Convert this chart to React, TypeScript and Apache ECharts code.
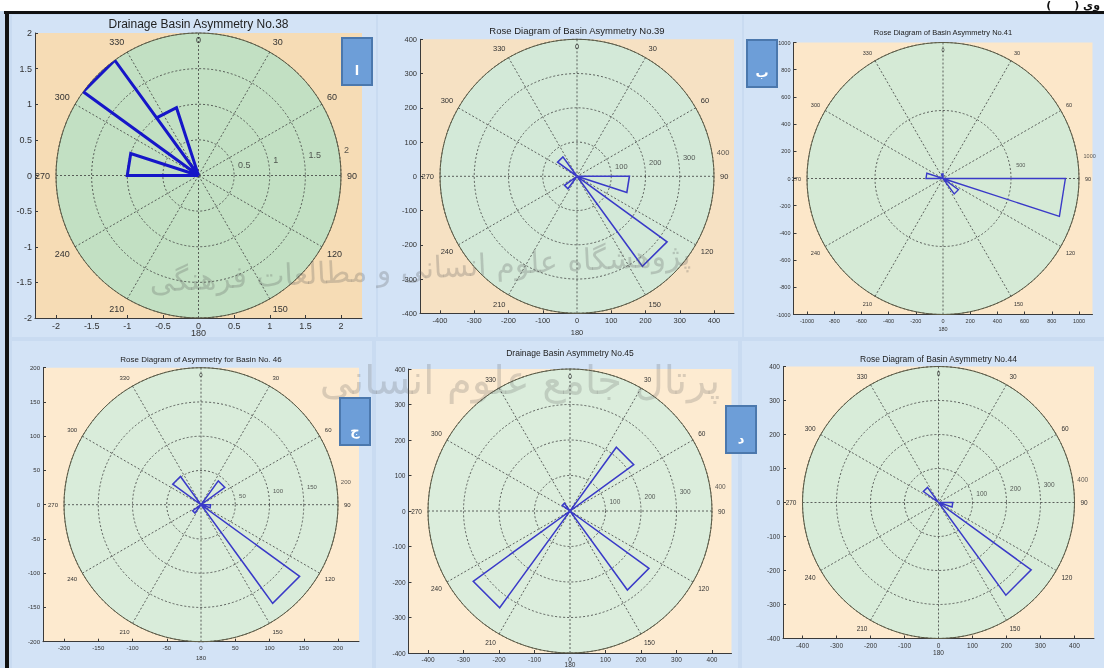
import React, { useEffect, useRef } from "react";
import * as echarts from "echarts";

// ---------------- data ----------------
const BIN_WIDTH = 18; // MATLAB rose: 20 bins of 18 degrees

// No.38
const p38Starts = [270, 306, 324];
const p38Radii = [1, 2, 1];
const p38Rings = [0.5, 1, 1.5, 2];
const p38Ticks = [-2, -1.5, -1, -0.5, 0, 0.5, 1, 1.5, 2];

// No.39
const p39Starts = [90, 126, 216, 306];
const p39Radii = [153, 325, 45, 70];
const p39Rings = [100, 200, 300, 400];
const p39Ticks = [-400, -300, -200, -100, 0, 100, 200, 300, 400];

// No.41
const p41Starts = [90, 126, 270, 342];
const p41Radii = [900, 140, 125, 35];
const p41Rings = [500, 1000];
const p41Ticks = [-1000, -800, -600, -400, -200, 0, 200, 400, 600, 800, 1000];

// No.46
const p46Starts = [36, 90, 126, 216, 306];
const p46Radii = [43, 14, 178, 15, 51];
const p46Rings = [50, 100, 150, 200];
const p46Ticks = [-200, -150, -100, -50, 0, 50, 100, 150, 200];

// No.45
const p45Starts = [36, 126, 216, 306];
const p45Radii = [222, 275, 337, 27];
const p45Rings = [100, 200, 300, 400];
const p45Ticks = [-400, -300, -200, -100, 0, 100, 200, 300, 400];

// No.44
const p44Starts = [90, 126, 306];
const p44Radii = [42, 337, 55];
const p44Rings = [100, 200, 300, 400];
const p44Ticks = [-400, -300, -200, -100, 0, 100, 200, 300, 400];

const titles = [
  "Drainage Basin Asymmetry No.38",
  "Rose Diagram of Basin Asymmetry No.39",
  "Rose Diagram of Basin Asymmetry No.41",
  "Rose Diagram of Asymmetry for Basin No. 46",
  "Drainage Basin Asymmetry No.45",
  "Rose Diagram of Basin Asymmetry No.44",
];

const RADIAL_LABEL_ANGLE = 82;

// ---------------- layout / style ----------------
const FONT = "Liberation Sans, Arial, sans-serif";

type Panel = {
  title: string;
  starts: number[];
  radii: number[];
  rings: number[];
  ticks: number[];
  cx: number;
  cy: number;
  R: number;
  hw: number;
  fs: number;
  titleFs: number;
  titleY: number;
  o180: number;
  lineW: number;
  lineColor: string;
  peach: string;
  green: string;
};

const panels: Panel[] = [
  { title: titles[0], starts: p38Starts, radii: p38Radii, rings: p38Rings, ticks: p38Ticks,
    cx: 198.5, cy: 175.5, R: 142.5, hw: 163.5, fs: 9, titleFs: 12, titleY: 24, o180: 15, lineW: 3, lineColor: "#1616c8", peach: "#f6dcb5", green: "#c2e0c3" },
  { title: titles[1], starts: p39Starts, radii: p39Radii, rings: p39Rings, ticks: p39Ticks,
    cx: 577, cy: 176.3, R: 137, hw: 157, fs: 7.5, titleFs: 9.5, titleY: 30, o180: 19, lineW: 1.6, lineColor: "#3a3ac8", peach: "#f6e1c3", green: "#d3e9d8" },
  { title: titles[2], starts: p41Starts, radii: p41Radii, rings: p41Rings, ticks: p41Ticks,
    cx: 943, cy: 178.5, R: 136, hw: 149.5, fs: 5.5, titleFs: 7.5, titleY: 32, o180: 14, lineW: 1.4, lineColor: "#3a3ac8", peach: "#fce7c9", green: "#d5ead6" },
  { title: titles[3], starts: p46Starts, radii: p46Radii, rings: p46Rings, ticks: p46Ticks,
    cx: 201, cy: 504.7, R: 137, hw: 158, fs: 6, titleFs: 8, titleY: 359, o180: 16, lineW: 1.5, lineColor: "#3a3ac8", peach: "#fdeacf", green: "#d9ecda" },
  { title: titles[4], starts: p45Starts, radii: p45Radii, rings: p45Rings, ticks: p45Ticks,
    cx: 570, cy: 511, R: 142, hw: 161.5, fs: 6.5, titleFs: 8.5, titleY: 353, o180: 11.5, lineW: 1.5, lineColor: "#3a3ac8", peach: "#fdebd1", green: "#dbeddc" },
  { title: titles[5], starts: p44Starts, radii: p44Radii, rings: p44Rings, ticks: p44Ticks,
    cx: 938.5, cy: 502.5, R: 136, hw: 155.5, fs: 6.5, titleFs: 8.5, titleY: 359, o180: 14, lineW: 1.5, lineColor: "#3a3ac8", peach: "#fdeacf", green: "#d8ecd9" },
];

function petalPoints(starts: number[], radii: number[]) {
  const pts: number[][] = [];
  starts.forEach((a, i) => {
    const r = radii[i];
    pts.push([0, a], [r, a], [r, a + BIN_WIDTH], [0, a + BIN_WIDTH]);
  });
  return pts;
}

const letterBoxes = [
  { x: 342, y: 38, t: "ا" },
  { x: 747, y: 40, t: "ب" },
  { x: 340, y: 398, t: "ج" },
  { x: 726, y: 406, t: "د" },
];

function buildOption() {
  const grid: any[] = [];
  const xAxis: any[] = [];
  const yAxis: any[] = [];
  const polar: any[] = [];
  const angleAxis: any[] = [];
  const radiusAxis: any[] = [];
  const series: any[] = [];
  const graphic: any[] = [];

  graphic.push({ type: "rect", z: -10, shape: { x: 0, y: 0, width: 1104, height: 668 }, style: { fill: "#c9dbf1" }, silent: true });
  graphic.push({ type: "rect", z: -9, shape: { x: 0, y: 0, width: 1104, height: 11 }, style: { fill: "#ffffff" }, silent: true });
  const figs = [
    [12, 15, 364, 322], [378, 15, 364, 322], [744, 15, 360, 322],
    [12, 341, 360, 327], [376, 341, 362, 327], [742, 341, 362, 327],
  ];
  figs.forEach(([x, y, w, h]) =>
    graphic.push({ type: "rect", z: -8, shape: { x, y, width: w, height: h }, style: { fill: "#d3e3f6" }, silent: true })
  );

  panels.forEach((p, i) => {
    const max = p.ticks[p.ticks.length - 1];
    const step = p.ticks[1] - p.ticks[0];
    const xm = (max * p.hw) / p.R;
    const ringMax = p.rings[p.rings.length - 1];
    const ringStep = p.rings[0];
    const fmt = (v: number) => String(v);

    grid.push({
      left: p.cx - p.hw, top: p.cy - p.R, width: 2 * p.hw, height: 2 * p.R,
      show: true, backgroundColor: p.peach, borderWidth: 0,
    });
    xAxis.push({
      gridIndex: i, type: "value", min: -xm, max: xm,
      axisLine: { show: true, onZero: false, lineStyle: { color: "#3a3a3a", width: 1 } },
      axisTick: { show: true, inside: true, length: 3, customValues: p.ticks, lineStyle: { color: "#3a3a3a" } },
      axisLabel: { show: true, customValues: p.ticks, fontSize: p.fs, color: "#333", margin: 3, fontFamily: FONT, formatter: fmt },
      splitLine: { show: false },
    });
    yAxis.push({
      gridIndex: i, type: "value", min: -max, max: max, interval: step,
      axisLine: { show: true, onZero: false, lineStyle: { color: "#3a3a3a", width: 1 } },
      axisTick: { show: true, inside: true, length: 3, lineStyle: { color: "#3a3a3a" } },
      axisLabel: { show: true, fontSize: p.fs, color: "#333", margin: 3, fontFamily: FONT, formatter: fmt },
      splitLine: { show: false },
    });

    polar.push({ center: [p.cx, p.cy], radius: p.R });
    angleAxis.push({
      polarIndex: i, type: "value", min: 0, max: 360, interval: 30, startAngle: 90, clockwise: true, z: 2,
      axisLine: { show: true, lineStyle: { color: "#5c5c46", width: 1 } },
      axisTick: { show: false },
      axisLabel: {
        show: true, margin: 6, fontSize: p.fs, color: "#333", fontFamily: FONT,
        formatter: (v: number) => (v === 0 || v === 360 || v === 180 ? "" : String(v)),
      },
      splitLine: { show: true, lineStyle: { type: [2, 2], color: "#3c3c3c", width: 0.8 } },
    });
    radiusAxis.push({
      polarIndex: i, type: "value", min: 0, max: ringMax, interval: ringStep, z: 2,
      axisLine: { show: false }, axisTick: { show: false }, axisLabel: { show: false },
      splitLine: { show: true, lineStyle: { type: [2, 2], color: "#3c3c3c", width: 0.8 } },
    });

    graphic.push({ type: "circle", z: 0.5, shape: { cx: p.cx, cy: p.cy, r: p.R }, style: { fill: p.green }, silent: true });
    graphic.push({
      type: "text", z: 5, x: p.cx, y: p.cy - p.R + 7,
      style: { text: "0", fontSize: p.fs, fill: "#333", fontFamily: FONT, align: "center", verticalAlign: "middle" },
    });
    graphic.push({
      type: "text", z: 5, x: p.cx, y: p.cy + p.R + p.o180,
      style: { text: "180", fontSize: p.fs, fill: "#333", fontFamily: FONT, align: "center", verticalAlign: "middle" },
    });
    graphic.push({
      type: "text", z: 5, x: p.cx, y: p.titleY,
      style: { text: p.title, fontSize: p.titleFs, fill: "#222", fontFamily: FONT, align: "center", verticalAlign: "middle" },
    });

    series.push({
      type: "line", coordinateSystem: "polar", polarIndex: i, z: 4, clip: false,
      data: petalPoints(p.starts, p.radii), symbol: "none", silent: true,
      lineStyle: { color: p.lineColor, width: p.lineW, join: "miter" },
    });
    series.push({
      type: "scatter", coordinateSystem: "polar", polarIndex: i, z: 4, clip: false, silent: true,
      symbol: "circle", symbolSize: 1, itemStyle: { color: "transparent" },
      data: p.rings.map((v) => ({ value: [v + ringStep / 20, RADIAL_LABEL_ANGLE], name: String(v) })),
      label: {
        show: true, position: [3, 0], align: "left", verticalAlign: "bottom",
        fontSize: p.fs, color: "#333", fontFamily: FONT, formatter: (q: any) => q.name,
      },
    });
  });

  // frame lines
  graphic.push({ type: "rect", z: 10, shape: { x: 4, y: 11, width: 1100, height: 3 }, style: { fill: "#111" }, silent: true });
  graphic.push({ type: "rect", z: 10, shape: { x: 5, y: 11, width: 4, height: 657 }, style: { fill: "#111" }, silent: true });

  letterBoxes.forEach((b) => {
    graphic.push({ type: "rect", z: 10, shape: { x: b.x, y: b.y, width: 30, height: 47 }, style: { fill: "#6d9ed8", stroke: "#4b78ad", lineWidth: 2 } });
    graphic.push({
      type: "text", z: 11, x: b.x + 15, y: b.y + 32,
      style: { text: b.t, fontSize: 13, fontWeight: "bold", fill: "#ffffff", fontFamily: "DejaVu Sans", align: "center", verticalAlign: "middle" },
    });
  });

  // watermark calligraphy of the source page
  graphic.push({
    type: "text", z: 8, x: 420, y: 268, rotation: 0.05,
    style: { text: "پژوهشگاه علوم انسانی و مطالعات فرهنگی", fontSize: 30, fill: "rgba(90,90,90,0.26)", fontFamily: "DejaVu Sans", align: "center", verticalAlign: "middle" },
  });
  graphic.push({
    type: "text", z: 8, x: 520, y: 380,
    style: { text: "پرتال جامع علوم انسانی", fontSize: 40, fill: "rgba(90,90,90,0.22)", fontFamily: "DejaVu Sans", align: "center", verticalAlign: "middle" },
  });
  graphic.push({
    type: "text", z: 12, x: 1100, y: 5,
    style: { text: "(      ) وی", fontSize: 11, fontWeight: "bold", fill: "#111", fontFamily: "DejaVu Sans", align: "right", verticalAlign: "middle" },
  });

  return { animation: false, grid, xAxis, yAxis, polar, angleAxis, radiusAxis, series, graphic };
}

export default function App() {
  const ref = useRef<HTMLDivElement>(null);
  useEffect(() => {
    if (!ref.current) return;
    const chart = echarts.init(ref.current, undefined, { renderer: "svg" });
    chart.setOption(buildOption());
    return () => chart.dispose();
  }, []);
  return <div ref={ref} style={{ position: "fixed", left: 0, top: 0, width: 1104, height: 668 }} />;
}
